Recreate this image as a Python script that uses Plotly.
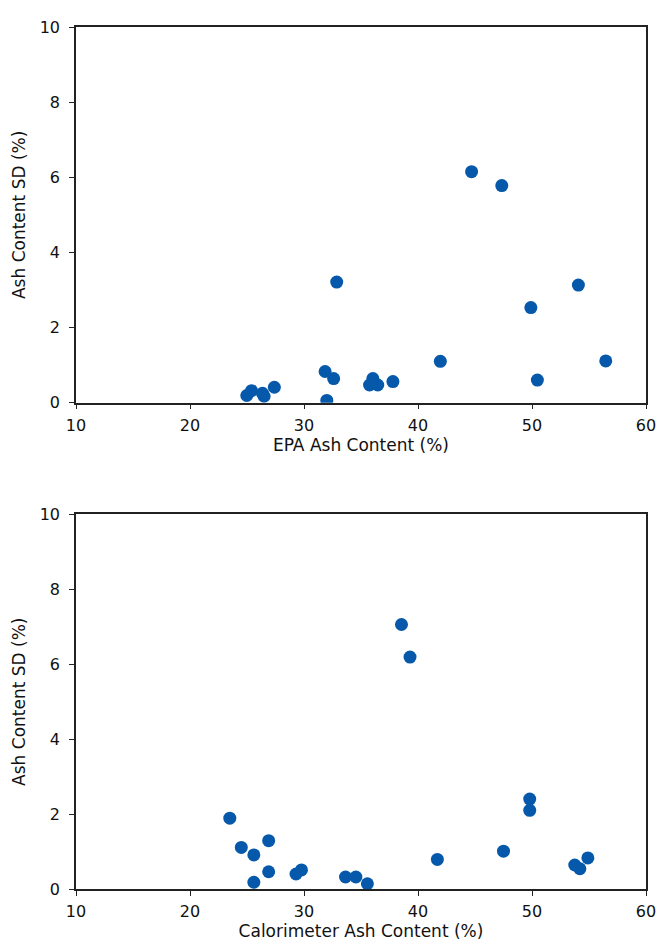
import plotly.graph_objects as go

# Top panel: EPA ash content vs SD
epa_x = [24.98, 25.4, 26.36, 26.5, 27.4, 31.85, 32.0, 32.6, 32.87, 35.75,
         36.04, 36.47, 37.8, 41.96, 44.7, 47.35, 49.9, 50.47, 54.07, 56.47]
epa_sd = [0.19, 0.32, 0.25, 0.17, 0.41, 0.83, 0.06, 0.64, 3.21, 0.47,
          0.64, 0.47, 0.56, 1.10, 6.15, 5.78, 2.53, 0.60, 3.13, 1.11]

# Bottom panel: calorimeter ash content vs SD
cal_x = [23.49, 24.5, 25.6, 25.6, 26.9, 26.9, 29.3, 29.78, 33.64, 34.55,
         35.56, 38.55, 39.3, 41.7, 47.5, 49.8, 49.8, 53.75, 54.2, 54.9]
cal_sd = [1.89, 1.11, 0.91, 0.18, 1.29, 0.46, 0.40, 0.51, 0.32, 0.32,
          0.14, 7.06, 6.19, 0.79, 1.01, 2.40, 2.10, 0.64, 0.54, 0.83]

x_ticks = [10, 20, 30, 40, 50, 60]
y_ticks = [0, 2, 4, 6, 8, 10]

COLOR = "#0659AA"
TICKFONT = dict(family="DejaVu Sans", size=16, color="#111111")
TITLEFONT = dict(family="DejaVu Sans", size=17, color="#111111")

fig = go.Figure()
fig.add_trace(go.Scatter(x=epa_x, y=epa_sd, mode="markers", xaxis="x", yaxis="y",
                         marker=dict(size=13, color=COLOR), showlegend=False))
fig.add_trace(go.Scatter(x=cal_x, y=cal_sd, mode="markers", xaxis="x2", yaxis="y2",
                         marker=dict(size=13, color=COLOR), showlegend=False))

axis_common = dict(showline=True, linecolor="#222222", linewidth=1.5, mirror=True,
                   ticks="outside", ticklen=5, tickwidth=1.2, tickcolor="#222222",
                   showgrid=False, zeroline=False, tickfont=TICKFONT)

fig.update_layout(
    width=658, height=937,
    margin=dict(l=64, r=10, t=11, b=54),
    paper_bgcolor="white", plot_bgcolor="white",
    font=TICKFONT,
    xaxis=dict(domain=[0, 1], anchor="y", range=[10, 60], tickvals=x_ticks, ticklabelstandoff=2,
               title=dict(text="EPA Ash Content (%)", font=TITLEFONT, standoff=2), **axis_common),
    yaxis=dict(domain=[0.5642, 1], anchor="x", range=[0, 10], tickvals=y_ticks, ticklabelstandoff=6,
               title=dict(text="Ash Content SD (%)", font=TITLEFONT, standoff=10), **axis_common),
    xaxis2=dict(domain=[0, 1], anchor="y2", range=[10, 60], tickvals=x_ticks, ticklabelstandoff=2,
                title=dict(text="Calorimeter Ash Content (%)", font=TITLEFONT, standoff=2), **axis_common),
    yaxis2=dict(domain=[0, 0.4346], anchor="x2", range=[0, 10], tickvals=y_ticks, ticklabelstandoff=6,
                title=dict(text="Ash Content SD (%)", font=TITLEFONT, standoff=10), **axis_common),
)

fig.write_html("out.html")
